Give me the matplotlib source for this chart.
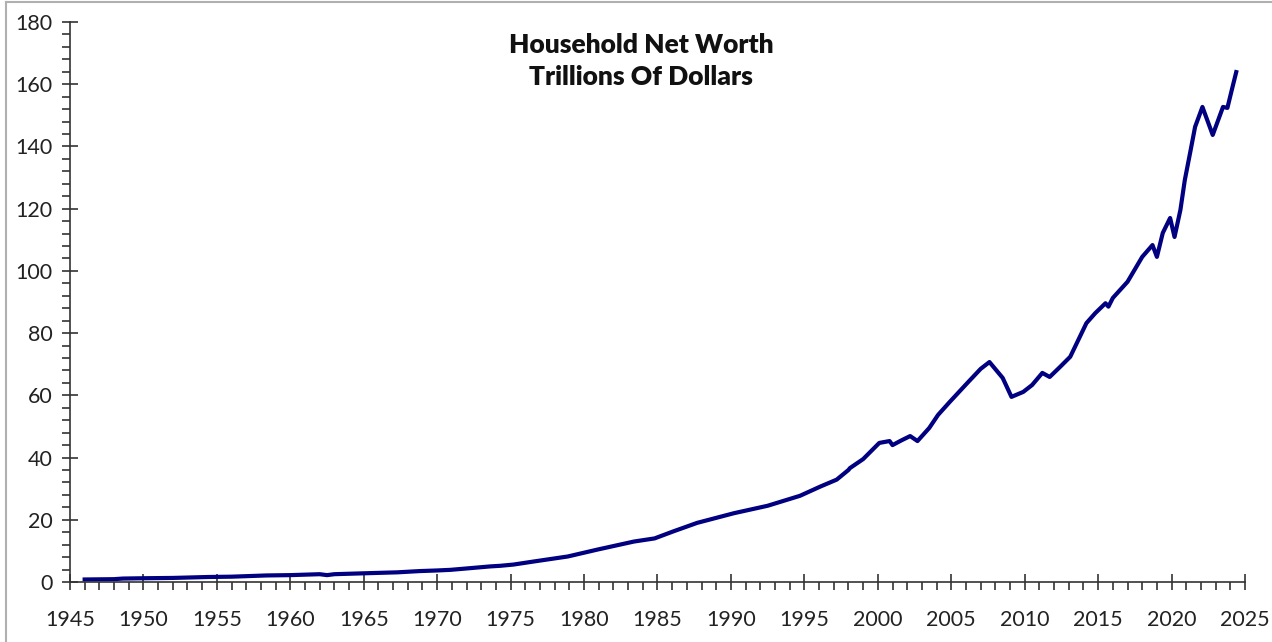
"""
Household Net Worth, trillions of dollars, 1946-2024.
"""

import matplotlib.pyplot as plt
from matplotlib.lines import Line2D
from matplotlib.ticker import MultipleLocator

# values (year, trillions $)
years = [
    1946.0, 1947.0, 1948.0, 1948.6, 1950.0, 1952.0, 1954.4, 1956.0, 1958.4,
    1960.0, 1962.0, 1962.5, 1963.0, 1965.1, 1967.3, 1968.8, 1970.0, 1970.9,
    1971.9, 1973.6, 1974.3, 1975.2, 1976.6, 1978.9, 1980.9, 1983.4, 1984.8,
    1986.1, 1987.7, 1990.2, 1992.5, 1994.7, 1996.1, 1997.2, 1998.0, 1998.1,
    1999.0, 2000.1, 2000.8, 2001.0, 2001.6, 2002.2, 2002.7, 2003.5, 2004.1,
    2004.9, 2006.1, 2007.0, 2007.6, 2008.5, 2009.1, 2009.9, 2010.5, 2011.2,
    2011.7, 2012.4, 2013.1, 2014.2, 2014.8, 2015.5, 2015.7, 2016.0, 2017.0,
    2018.0, 2018.7, 2019.0, 2019.4, 2019.9, 2020.2, 2020.6, 2020.9, 2021.3,
    2021.6, 2022.1, 2022.8, 2023.5, 2023.8, 2024.1, 2024.4,
]
net_worth = [
    0.8, 0.85, 0.9, 1.1, 1.2, 1.3, 1.6, 1.7, 2.1,
    2.2, 2.5, 2.2, 2.5, 2.8, 3.1, 3.5, 3.7, 3.9,
    4.3, 5.0, 5.2, 5.6, 6.6, 8.2, 10.4, 13.0, 14.0,
    16.3, 19.0, 22.1, 24.5, 27.7, 30.7, 32.9, 36.0, 36.6,
    39.5, 44.7, 45.3, 44.0, 45.5, 46.9, 45.3, 49.5, 53.7,
    57.9, 64.0, 68.5, 70.7, 65.6, 59.5, 61.1, 63.3, 67.2,
    65.9, 69.1, 72.4, 83.2, 86.4, 89.6, 88.5, 91.3, 96.5,
    104.5, 108.3, 104.5, 112.2, 117.0, 110.9, 119.6, 129.2, 138.9,
    146.3, 152.7, 143.7, 152.7, 152.4, 158.2, 163.9,
]

title_lines = ["Household Net Worth", "Trillions Of Dollars"]

plt.rcParams["font.family"] = ["Lato", "DejaVu Sans"]

fig = plt.figure(figsize=(12.72, 6.42), dpi=100)
ax = fig.add_axes([0.055, 0.0935, 0.9238, 0.8722])

ax.plot(years, net_worth, color="#000080", linewidth=3.0, solid_joinstyle="round")

ax.set_xlim(1945, 2025)
ax.set_ylim(0, 180)
ax.xaxis.set_major_locator(MultipleLocator(5))
ax.xaxis.set_minor_locator(MultipleLocator(1))
ax.yaxis.set_major_locator(MultipleLocator(20))
ax.yaxis.set_minor_locator(MultipleLocator(4))

ax.tick_params(which="major", direction="inout", length=11, width=1.2,
               color="#333333", labelsize=15.5, labelcolor="#222222")
ax.tick_params(which="minor", direction="out", length=5.5, width=1.2, color="#333333")
ax.tick_params(axis="x", which="major", pad=15)
ax.tick_params(axis="y", which="major", pad=7)

for side in ("top", "right"):
    ax.spines[side].set_visible(False)
for side in ("left", "bottom"):
    ax.spines[side].set_color("#333333")
    ax.spines[side].set_linewidth(1.2)

fig.text(0.504, 0.905, "\n".join(title_lines), ha="center", va="center",
         fontsize=19, fontweight="heavy", color="#111111", linespacing=1.4)

# thin grey chart border (left and top edges only are visible)
fig.add_artist(Line2D([6 / 1272, 6 / 1272], [0, 1 - 2 / 642], transform=fig.transFigure,
                      color="#b0b0b0", linewidth=1.5))
fig.add_artist(Line2D([6 / 1272, 1], [1 - 2 / 642, 1 - 2 / 642], transform=fig.transFigure,
                      color="#b0b0b0", linewidth=1.5))

fig.savefig("out.png", dpi=100)
